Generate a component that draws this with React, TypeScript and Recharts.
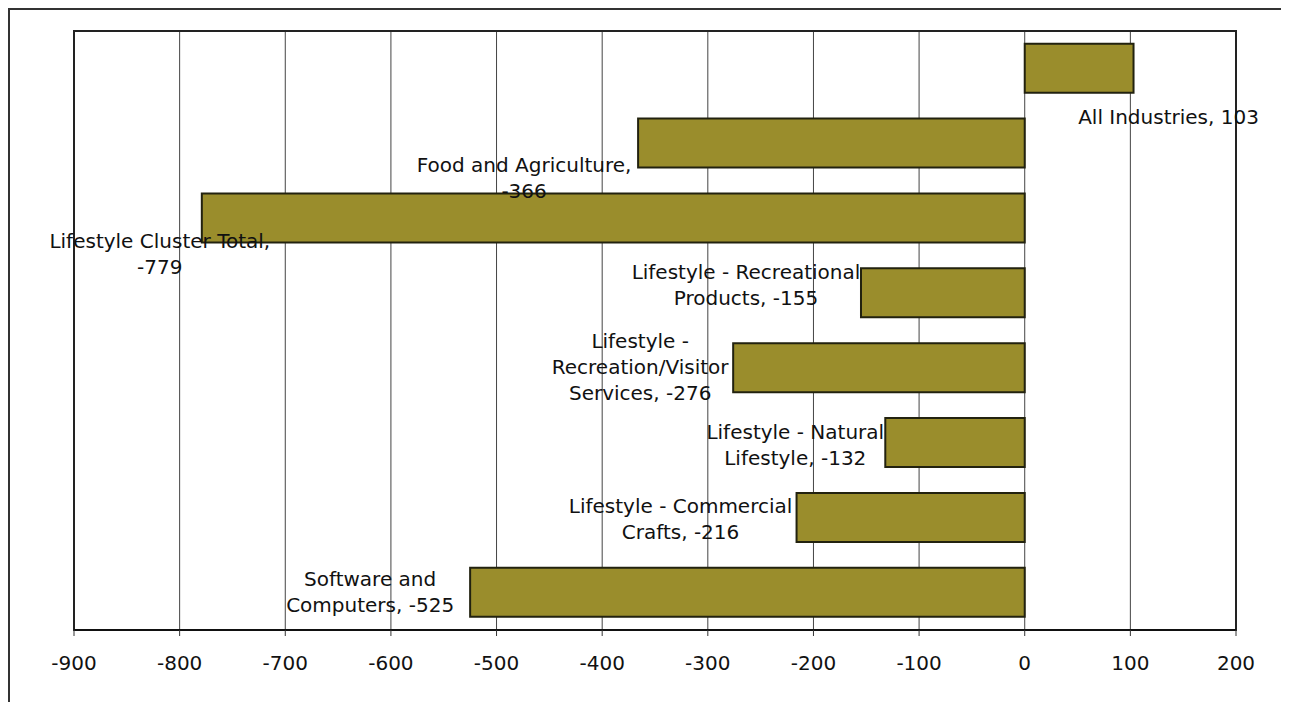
import { Bar, BarChart, CartesianGrid, LabelList, ReferenceArea, XAxis, YAxis } from 'recharts';

const categories = [
  'All Industries',
  'Food and Agriculture',
  'Lifestyle Cluster Total',
  'Lifestyle - Recreational Products',
  'Lifestyle - Recreation/Visitor Services',
  'Lifestyle - Natural Lifestyle',
  'Lifestyle - Commercial Crafts',
  'Software and Computers',
];
const changes = [103, -366, -779, -155, -276, -132, -216, -525];
const labelLines = [
  ['All Industries, 103'],
  ['Food and Agriculture,', '-366'],
  ['Lifestyle Cluster Total,', '-779'],
  ['Lifestyle - Recreational', 'Products, -155'],
  ['Lifestyle -', 'Recreation/Visitor', 'Services, -276'],
  ['Lifestyle - Natural', 'Lifestyle, -132'],
  ['Lifestyle - Commercial', 'Crafts, -216'],
  ['Software and', 'Computers, -525'],
];
const xTicks = [-900, -800, -700, -600, -500, -400, -300, -200, -100, 0, 100, 200];
const title = 'INDUSTRY CLUSTER EMPLOYMENT CHANGE, 2005 TO 2008';

const chartData = categories.map((name, i) => ({ name, change: changes[i] }));

// labels were placed by hand in the original, offsets are from the bar end / bar middle
const labelPlace = [
  { dx: 35, dy: 49 },
  { dx: -114, dy: 22 },
  { dx: -42, dy: 23 },
  { dx: -115, dy: -21 },
  { dx: -93, dy: -27 },
  { dx: -90, dy: -11 },
  { dx: -116, dy: -11 },
  { dx: -100, dy: -13 },
];

const FONT = '"DejaVu Sans", Verdana, sans-serif';
const LINE = 26;

const BarLabel = (props: any) => {
  const vb = props.viewBox || props;
  const i = categories.indexOf(props.value);
  if (i < 0 || !vb) return null;
  const left = Math.min(vb.x, vb.x + vb.width);
  const right = Math.max(vb.x, vb.x + vb.width);
  const end = changes[i] < 0 ? left : right;
  const midY = vb.y + vb.height / 2;
  const p = labelPlace[i];
  return (
    <text
      x={end + p.dx}
      y={midY + p.dy}
      textAnchor="middle"
      dominantBaseline="central"
      fontFamily={FONT}
      fontSize={20}
      fill="#111"
    >
      {labelLines[i].map((line, k) => (
        <tspan key={k} x={end + p.dx} y={midY + p.dy + k * LINE}>
          {line}
        </tspan>
      ))}
    </text>
  );
};

export default function App() {
  return (
    <div style={{ position: 'relative' }}>
      {/* title sits above the frame, its top is cut off by the page edge like the scan */}
      <svg
        width={1289}
        height={20}
        style={{ position: 'absolute', top: -8, left: -8, overflow: 'visible' }}
      >
        <text
          x={652}
          y={4}
          textAnchor="middle"
          fontFamily={FONT}
          fontWeight="bold"
          fontSize={20}
          textDecoration="underline"
          fill="#111"
        >
          {title}
        </text>
      </svg>
      <div
        style={{
          width: 1279,
          height: 692,
          borderTop: '2px solid #333',
          borderLeft: '2px solid #333',
        }}
      >
        <BarChart
          width={1279}
          height={692}
          data={chartData}
          layout="vertical"
          margin={{ top: 21, right: 53, left: 64, bottom: 32 }}
          barCategoryGap="17%"
        >
          <CartesianGrid horizontal={false} stroke="#444" strokeWidth={1} />
          <ReferenceArea x1={-900} x2={200} fill="none" stroke="#222" strokeWidth={2} ifOverflow="visible" />
          <XAxis
            type="number"
            dataKey="change"
            domain={[-900, 200]}
            ticks={xTicks}
            interval={0}
            height={40}
            axisLine={{ stroke: '#111', strokeWidth: 2 }}
            tickLine={{ stroke: '#333' }}
            tickSize={6}
            tickMargin={20}
            tick={{ fontFamily: FONT, fontSize: 20, fill: '#111' }}
          />
          <YAxis type="category" dataKey="name" hide />
          <Bar dataKey="change" fill="#9a8d2c" stroke="#22220f" strokeWidth={2} isAnimationActive={false}>
            <LabelList dataKey="name" content={BarLabel} />
          </Bar>
        </BarChart>
      </div>
    </div>
  );
}
